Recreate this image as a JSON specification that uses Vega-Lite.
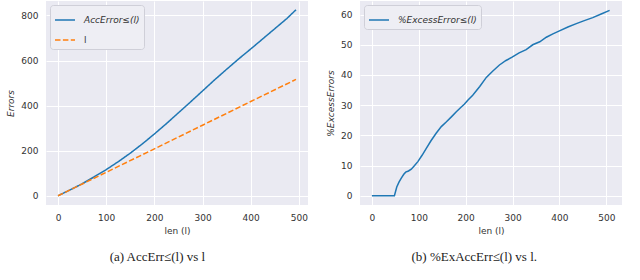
{
  "$schema": "https://vega.github.io/schema/vega-lite/v6.json",
  "padding": {"left": 6, "top": 1, "right": 5, "bottom": 5},
  "config": {
    "view": {"fill": "#eaeaf2", "stroke": null},
    "axis": {"grid": true, "gridColor": "#ffffff", "gridWidth": 1, "domain": false, "ticks": false, "tickSize": 0,
      "labelFont": "DejaVu Sans", "labelFontSize": 9, "labelColor": "#333333", "labelPadding": 8,
      "titleFont": "DejaVu Sans", "titleFontSize": 9, "titleFontWeight": "normal", "titleColor": "#333333", "titlePadding": 4},
    "axisY": {"labelPadding": 8, "titlePadding": 5, "titleFontStyle": "italic"},
    "legend": {"orient": "top-left", "offset": 4, "padding": 4, "fillColor": "#eeeef4", "strokeColor": "#cfcfd8", "cornerRadius": 3,
      "symbolType": "stroke", "symbolSize": 400, "symbolStrokeWidth": 1.5, "labelFont": "DejaVu Sans", "labelFontSize": 9,
      "labelFontStyle": "italic", "labelColor": "#333333", "labelOffset": 8, "rowPadding": 4, "title": null},
    "title": {"font": "Liberation Serif", "fontSize": 13, "fontWeight": "normal", "orient": "bottom", "frame": "bounds", "anchor": "middle", "color": "#222222", "offset": 16},
    "concat": {"spacing": 18}
  },
  "datasets": {
    "acc": [
      {"len": 0, "series": "AccError≤(l)", "errors": 0},
      {"len": 25, "series": "AccError≤(l)", "errors": 26},
      {"len": 50, "series": "AccError≤(l)", "errors": 53},
      {"len": 75, "series": "AccError≤(l)", "errors": 84},
      {"len": 100, "series": "AccError≤(l)", "errors": 116},
      {"len": 125, "series": "AccError≤(l)", "errors": 151},
      {"len": 150, "series": "AccError≤(l)", "errors": 189},
      {"len": 175, "series": "AccError≤(l)", "errors": 230},
      {"len": 200, "series": "AccError≤(l)", "errors": 274},
      {"len": 225, "series": "AccError≤(l)", "errors": 320},
      {"len": 250, "series": "AccError≤(l)", "errors": 368},
      {"len": 275, "series": "AccError≤(l)", "errors": 416},
      {"len": 300, "series": "AccError≤(l)", "errors": 465},
      {"len": 325, "series": "AccError≤(l)", "errors": 514},
      {"len": 350, "series": "AccError≤(l)", "errors": 561},
      {"len": 375, "series": "AccError≤(l)", "errors": 607},
      {"len": 400, "series": "AccError≤(l)", "errors": 651},
      {"len": 425, "series": "AccError≤(l)", "errors": 696},
      {"len": 450, "series": "AccError≤(l)", "errors": 741},
      {"len": 475, "series": "AccError≤(l)", "errors": 786},
      {"len": 494, "series": "AccError≤(l)", "errors": 825},
      {"len": 0, "series": "l", "errors": 0},
      {"len": 100, "series": "l", "errors": 104},
      {"len": 200, "series": "l", "errors": 208},
      {"len": 300, "series": "l", "errors": 313},
      {"len": 400, "series": "l", "errors": 418},
      {"len": 494, "series": "l", "errors": 516}
    ],
    "excess": [
      {"len": 0, "series": "%ExcessError≤(l)", "pct": 0},
      {"len": 10, "series": "%ExcessError≤(l)", "pct": 0},
      {"len": 20, "series": "%ExcessError≤(l)", "pct": 0},
      {"len": 30, "series": "%ExcessError≤(l)", "pct": 0},
      {"len": 40, "series": "%ExcessError≤(l)", "pct": 0},
      {"len": 48, "series": "%ExcessError≤(l)", "pct": 0},
      {"len": 53, "series": "%ExcessError≤(l)", "pct": 2.9},
      {"len": 58, "series": "%ExcessError≤(l)", "pct": 4.6},
      {"len": 63, "series": "%ExcessError≤(l)", "pct": 5.9},
      {"len": 68, "series": "%ExcessError≤(l)", "pct": 7.1},
      {"len": 72, "series": "%ExcessError≤(l)", "pct": 7.8},
      {"len": 78, "series": "%ExcessError≤(l)", "pct": 8.2},
      {"len": 84, "series": "%ExcessError≤(l)", "pct": 8.8},
      {"len": 91, "series": "%ExcessError≤(l)", "pct": 10},
      {"len": 98, "series": "%ExcessError≤(l)", "pct": 11.3},
      {"len": 107, "series": "%ExcessError≤(l)", "pct": 13.4},
      {"len": 116, "series": "%ExcessError≤(l)", "pct": 15.7},
      {"len": 126, "series": "%ExcessError≤(l)", "pct": 18.2},
      {"len": 137, "series": "%ExcessError≤(l)", "pct": 20.7},
      {"len": 148, "series": "%ExcessError≤(l)", "pct": 22.9},
      {"len": 159, "series": "%ExcessError≤(l)", "pct": 24.5},
      {"len": 170, "series": "%ExcessError≤(l)", "pct": 26.2},
      {"len": 180, "series": "%ExcessError≤(l)", "pct": 27.8},
      {"len": 190, "series": "%ExcessError≤(l)", "pct": 29.3},
      {"len": 197, "series": "%ExcessError≤(l)", "pct": 30.3},
      {"len": 205, "series": "%ExcessError≤(l)", "pct": 31.7},
      {"len": 215, "series": "%ExcessError≤(l)", "pct": 33.3},
      {"len": 230, "series": "%ExcessError≤(l)", "pct": 36.2},
      {"len": 244, "series": "%ExcessError≤(l)", "pct": 39.2},
      {"len": 258, "series": "%ExcessError≤(l)", "pct": 41.3},
      {"len": 272, "series": "%ExcessError≤(l)", "pct": 43.3},
      {"len": 286, "series": "%ExcessError≤(l)", "pct": 44.8},
      {"len": 299, "series": "%ExcessError≤(l)", "pct": 45.9},
      {"len": 314, "series": "%ExcessError≤(l)", "pct": 47.3},
      {"len": 329, "series": "%ExcessError≤(l)", "pct": 48.4},
      {"len": 343, "series": "%ExcessError≤(l)", "pct": 50},
      {"len": 358, "series": "%ExcessError≤(l)", "pct": 51},
      {"len": 372, "series": "%ExcessError≤(l)", "pct": 52.5},
      {"len": 386, "series": "%ExcessError≤(l)", "pct": 53.6},
      {"len": 400, "series": "%ExcessError≤(l)", "pct": 54.6},
      {"len": 418, "series": "%ExcessError≤(l)", "pct": 55.9},
      {"len": 436, "series": "%ExcessError≤(l)", "pct": 57},
      {"len": 453, "series": "%ExcessError≤(l)", "pct": 58},
      {"len": 471, "series": "%ExcessError≤(l)", "pct": 59},
      {"len": 489, "series": "%ExcessError≤(l)", "pct": 60.2},
      {"len": 507, "series": "%ExcessError≤(l)", "pct": 61.4}
    ]
  },
  "resolve": {
    "scale": {"color": "independent", "strokeDash": "independent"},
    "legend": {"color": "independent", "strokeDash": "independent"}
  },
  "hconcat": [
    {
      "width": 262,
      "height": 204,
      "title": {"text": "(a) AccErr≤(l) vs l"},
      "data": {"name": "acc"},
      "mark": {"type": "line", "strokeWidth": 1.5},
      "encoding": {
        "x": {"field": "len", "type": "quantitative", "scale": {"domain": [-25, 519], "nice": false, "zero": false},
          "axis": {"values": [0, 100, 200, 300, 400, 500], "title": "len (l)"}},
        "y": {"field": "errors", "type": "quantitative", "scale": {"domain": [-41, 864], "nice": false, "zero": false},
          "axis": {"values": [0, 200, 400, 600, 800], "title": "Errors"}},
        "color": {"field": "series", "type": "nominal", "sort": ["AccError≤(l)", "l"],
          "scale": {"domain": ["AccError≤(l)", "l"], "range": ["#1f77b4", "#ff7f0e"]},
          "legend": {"encode": {"labels": {"update": {"fontStyle": {"signal": "datum.label === 'l' ? 'normal' : 'italic'"}}}}}},
        "strokeDash": {"field": "series", "type": "nominal", "sort": ["AccError≤(l)", "l"],
          "scale": {"domain": ["AccError≤(l)", "l"], "range": [[1, 0], [5.5, 2.4]]},
          "legend": {"encode": {"labels": {"update": {"fontStyle": {"signal": "datum.label === 'l' ? 'normal' : 'italic'"}}}}}}
      }
    },
    {
      "width": 262,
      "height": 204,
      "title": {"text": "(b) %ExAccErr≤(l) vs l."},
      "data": {"name": "excess"},
      "mark": {"type": "line", "strokeWidth": 1.5},
      "encoding": {
        "x": {"field": "len", "type": "quantitative", "scale": {"domain": [-25.4, 533.4], "nice": false, "zero": false},
          "axis": {"values": [0, 100, 200, 300, 400, 500], "title": "len (l)"}},
        "y": {"field": "pct", "type": "quantitative", "scale": {"domain": [-3.07, 64.5], "nice": false, "zero": false},
          "axis": {"values": [0, 10, 20, 30, 40, 50, 60], "title": "%ExcessErrors"}},
        "color": {"field": "series", "type": "nominal",
          "scale": {"domain": ["%ExcessError≤(l)"], "range": ["#1f77b4"]}}
      }
    }
  ]
}
